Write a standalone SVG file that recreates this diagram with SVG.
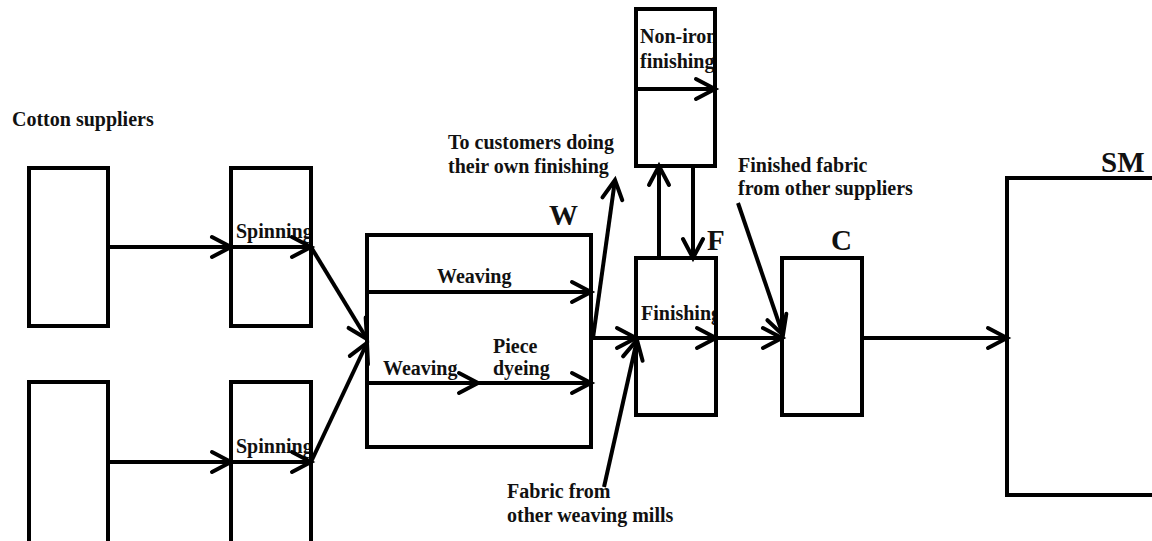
<svg xmlns="http://www.w3.org/2000/svg" width="1152" height="541" viewBox="0 0 1152 541">
  <style>
    .box { fill: #fff; stroke: none; }
    .frame { fill: none; stroke: #000; stroke-width: 4; }
    .flow { fill: none; stroke: #000; stroke-width: 4; marker-end: url(#head); }
    .lbl { font-family: "Liberation Serif", "Times New Roman", serif; font-weight: bold; font-size: 20px; fill: #111; }
    .big { font-family: "Liberation Serif", "Times New Roman", serif; font-weight: bold; font-size: 29px; fill: #111; }
  </style>
  <defs>
    <!-- open chevron arrowhead -->
    <marker id="head" markerUnits="userSpaceOnUse" viewBox="-24 -14 28 28" markerWidth="28" markerHeight="28" refX="0" refY="0" orient="auto" overflow="visible">
      <path d="M-19,-10 L0,0 L-19,10" fill="none" stroke="#000" stroke-width="4" stroke-linecap="round" stroke-linejoin="miter"/>
    </marker>
    <clipPath id="clipSpin1"><rect x="229" y="166" width="84" height="162"/></clipPath>
    <clipPath id="clipSpin2"><rect x="229" y="380" width="84" height="170"/></clipPath>
    <clipPath id="clipNonIron"><rect x="634" y="7" width="83" height="161"/></clipPath>
    <clipPath id="clipFin"><rect x="634" y="256" width="84" height="161"/></clipPath>
  </defs>

  <rect width="1152" height="541" fill="#fff"/>

  <text class="lbl" x="12" y="126">Cotton suppliers</text>

  <!-- cotton suppliers -->
  <g id="supplier1">
    <rect class="box" x="29" y="168" width="79" height="158"/>
    <rect class="frame" x="29" y="168" width="79" height="158"/>
  </g>
  <g id="supplier2">
    <rect class="box" x="29" y="382" width="79" height="170"/>
    <rect class="frame" x="29" y="382" width="79" height="170"/>
  </g>

  <!-- spinning mills -->
  <g id="spinning1">
    <rect class="box" x="231" y="168" width="80" height="158"/>
    <text class="lbl" x="236" y="238" clip-path="url(#clipSpin1)">Spinning</text>
    <rect class="frame" x="231" y="168" width="80" height="158"/>
  </g>
  <g id="spinning2">
    <rect class="box" x="231" y="382" width="80" height="170"/>
    <text class="lbl" x="236" y="453" clip-path="url(#clipSpin2)">Spinning</text>
    <rect class="frame" x="231" y="382" width="80" height="170"/>
  </g>

  <!-- weaving mill W -->
  <g id="weaving">
    <rect class="box" x="367" y="235" width="224" height="212"/>
    <text class="big" x="549" y="225">W</text>
    <text class="lbl" x="437" y="283">Weaving</text>
    <text class="lbl" x="383" y="375">Weaving</text>
    <text class="lbl" x="493" y="353">Piece</text>
    <text class="lbl" x="493" y="375">dyeing</text>
    <rect class="frame" x="367" y="235" width="224" height="212"/>
  </g>

  <!-- non-iron finishing -->
  <g id="noniron">
    <rect class="box" x="636" y="9" width="79" height="157"/>
    <text class="lbl" x="640" y="43" clip-path="url(#clipNonIron)">Non-iron</text>
    <text class="lbl" x="640" y="68" clip-path="url(#clipNonIron)">finishing</text>
    <rect class="frame" x="636" y="9" width="79" height="157"/>
  </g>

  <!-- finishing F -->
  <g id="finishing">
    <rect class="box" x="636" y="258" width="80" height="157"/>
    <text class="big" x="707" y="250">F</text>
    <text class="lbl" x="641" y="320" clip-path="url(#clipFin)">Finishing</text>
    <rect class="frame" x="636" y="258" width="80" height="157"/>
  </g>

  <!-- converter C -->
  <g id="converter">
    <rect class="box" x="782" y="258" width="80" height="157"/>
    <text class="big" x="831" y="250">C</text>
    <rect class="frame" x="782" y="258" width="80" height="157"/>
  </g>

  <!-- retailer SM -->
  <g id="retailer">
    <rect class="box" x="1007" y="178" width="150" height="317"/>
    <text class="big" x="1101" y="172">SM</text>
    <rect class="frame" x="1007" y="178" width="150" height="317"/>
  </g>

  <!-- free labels -->
  <g id="labels">
    <text class="lbl" x="448" y="149">To customers doing</text>
    <text class="lbl" x="448" y="173">their own finishing</text>
    <text class="lbl" x="738" y="172">Finished fabric</text>
    <text class="lbl" x="738" y="195">from other suppliers</text>
    <text class="lbl" x="507" y="498">Fabric from</text>
    <text class="lbl" x="507" y="522">other weaving mills</text>
  </g>

  <!-- material flows -->
  <g id="connectors">
    <line class="flow" x1="108" y1="247" x2="231" y2="247"/>
    <line class="flow" x1="231" y1="247" x2="311" y2="247"/>
    <line class="flow" x1="108" y1="462" x2="231" y2="462"/>
    <line class="flow" x1="231" y1="462" x2="311" y2="462"/>
    <line class="flow" x1="311" y1="247" x2="367" y2="339"/>
    <line class="flow" x1="311" y1="462" x2="367" y2="343"/>

    <line class="flow" x1="367" y1="292" x2="591" y2="292"/>
    <line class="flow" x1="367" y1="383" x2="478" y2="383"/>
    <line class="flow" x1="478" y1="383" x2="591" y2="383"/>

    <line class="flow" x1="591" y1="338" x2="636" y2="338"/>
    <line class="flow" x1="593" y1="338" x2="615" y2="180"/>
    <line class="flow" x1="604" y1="487" x2="637" y2="340"/>

    <line class="flow" x1="636" y1="338" x2="716" y2="338"/>
    <line class="flow" x1="659" y1="258" x2="659" y2="166"/>
    <line class="flow" x1="693" y1="166" x2="693" y2="258"/>
    <line class="flow" x1="636" y1="89" x2="715" y2="89"/>

    <line class="flow" x1="716" y1="338" x2="782" y2="338"/>
    <line class="flow" x1="738" y1="203" x2="783" y2="335"/>
    <line class="flow" x1="862" y1="338" x2="1007" y2="338"/>
  </g>
</svg>
